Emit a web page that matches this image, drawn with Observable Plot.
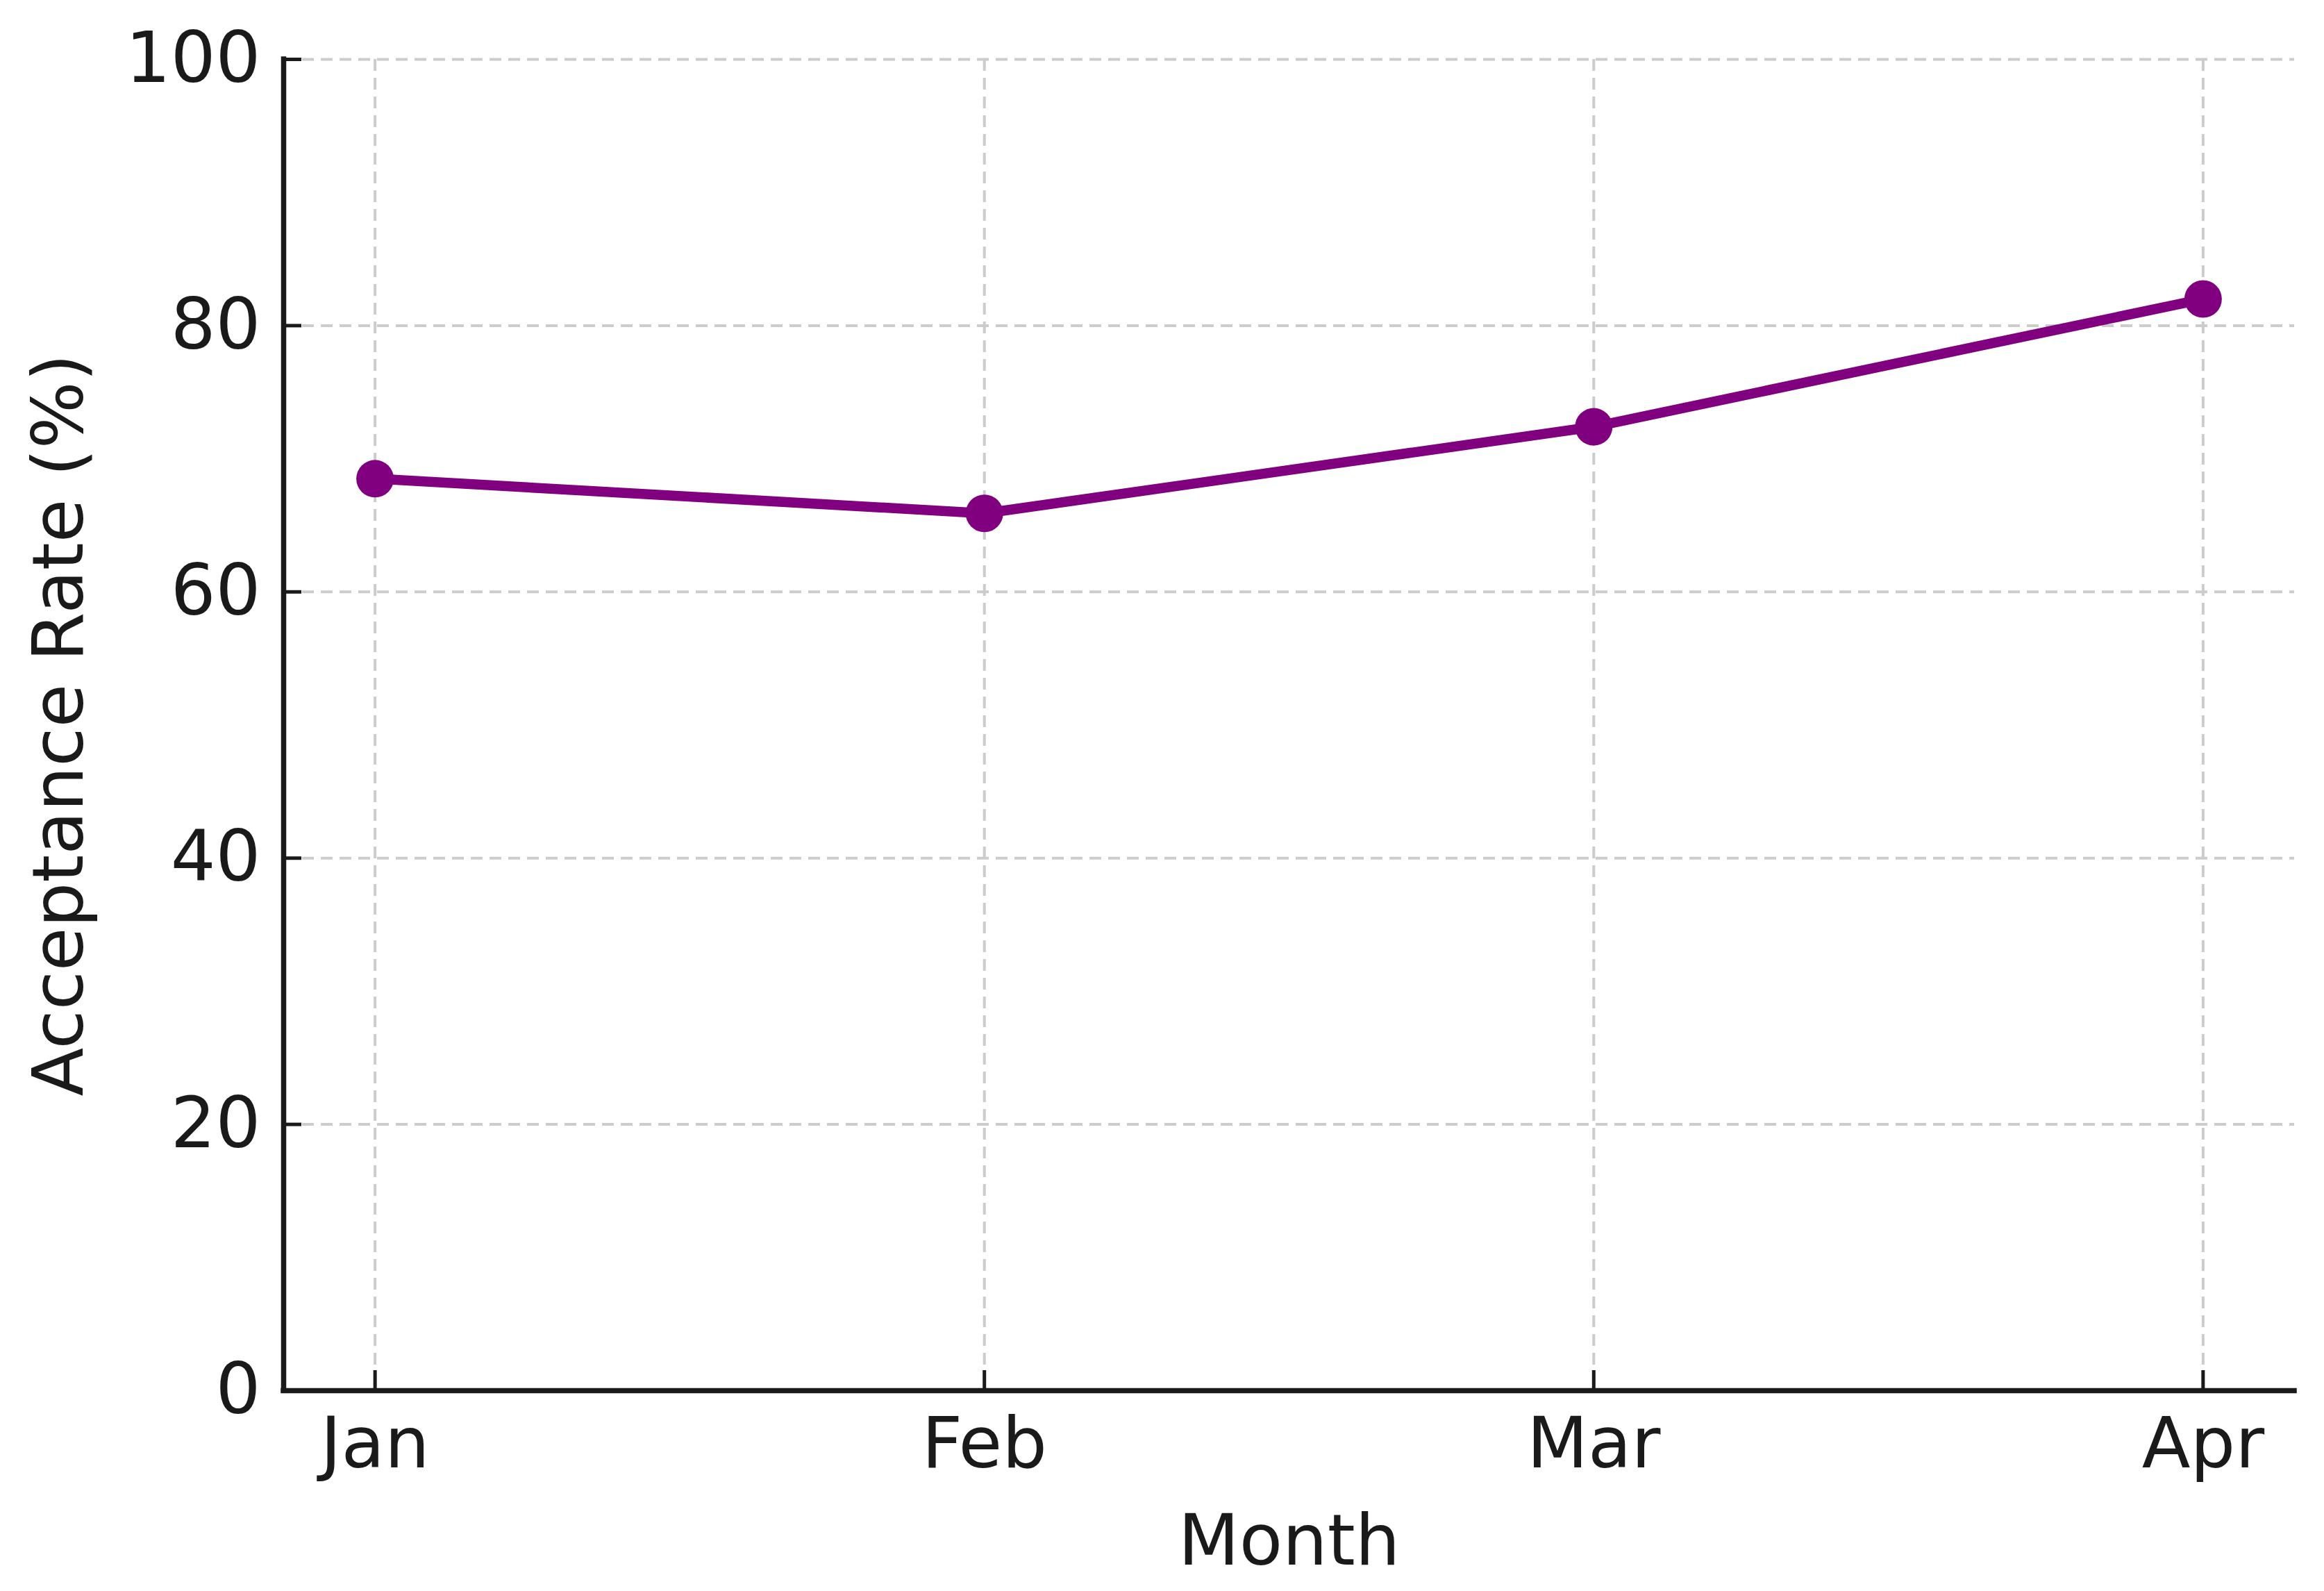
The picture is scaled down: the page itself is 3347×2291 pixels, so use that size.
<!DOCTYPE html>
<html>
<head>
<meta charset="utf-8">
<script src="https://cdn.jsdelivr.net/npm/d3@7"></script>
<script src="https://cdn.jsdelivr.net/npm/@observablehq/plot@0.6"></script>
<style>
  html, body { margin: 0; padding: 0; background: white; }
</style>
</head>
<body>
<div id="chart"></div>
<script>
const months = ["Jan", "Feb", "Mar", "Apr"];
const acceptanceRate = [68.5, 65.9, 72.4, 82.0];
const yTicks = [0, 20, 40, 60, 80, 100];
const xLabel = "Month";
const yLabel = "Acceptance Rate (%)";

const data = months.map((m, i) => ({i, month: m, value: acceptanceRate[i]}));
const xIdx = months.map((m, i) => i);

const W = 3347, H = 2291;
const mL = 408, mR = 43, mT = 85, mB = 289;
const frameW = W - mL - mR, frameH = H - mT - mB;
const FS = 102;
const gridStyle = {stroke: "#cccccc", strokeWidth: 4, strokeDasharray: "17,10"};

const chart = Plot.plot({
  width: W, height: H,
  marginLeft: mL, marginRight: mR, marginTop: mT, marginBottom: mB,
  x: {type: "linear", domain: [-0.15, 3.15]},
  y: {domain: [0, 100]},
  style: {fontFamily: "DejaVu Sans", fontSize: FS + "px", background: "white", color: "#1a1a1a"},
  marks: [
    Plot.ruleX(xIdx, {x: d => d, ...gridStyle}),
    Plot.ruleY(yTicks, {y: d => d, ...gridStyle}),
    Plot.line(data, {x: "i", y: "value", stroke: "purple", strokeWidth: 14.5, strokeLinejoin: "round"}),
    Plot.dot(data, {x: "i", y: "value", r: 27, fill: "purple", stroke: "none"}),
    Plot.ruleY(yTicks, {y: d => d, stroke: "#1a1a1a", strokeWidth: 5, insetRight: frameW - 26}),
    Plot.ruleX(xIdx, {x: d => d, stroke: "#1a1a1a", strokeWidth: 5, insetTop: frameH - 29}),
    Plot.ruleY([0], {stroke: "#1a1a1a", strokeWidth: 7.5, strokeLinecap: "square"}),
    Plot.ruleX([-0.15], {y1: 0, y2: 100, stroke: "#1a1a1a", strokeWidth: 7.5, strokeLinecap: "square"}),
    Plot.axisY(yTicks, {tickSize: 0, tickPadding: 33, fontSize: FS, label: null}),
    Plot.axisX(xIdx, {tickSize: 0, tickPadding: 38, fontSize: FS, tickFormat: i => months[i], label: null}),
    Plot.text([xLabel], {text: d => d, frameAnchor: "bottom", dy: 250, fontSize: FS, textAnchor: "middle"}),
    Plot.text([yLabel], {text: d => d, frameAnchor: "left", rotate: -90, dx: -322, fontSize: FS, textAnchor: "middle"})
  ]
});
document.getElementById("chart").appendChild(chart);
</script>
</body>
</html>
